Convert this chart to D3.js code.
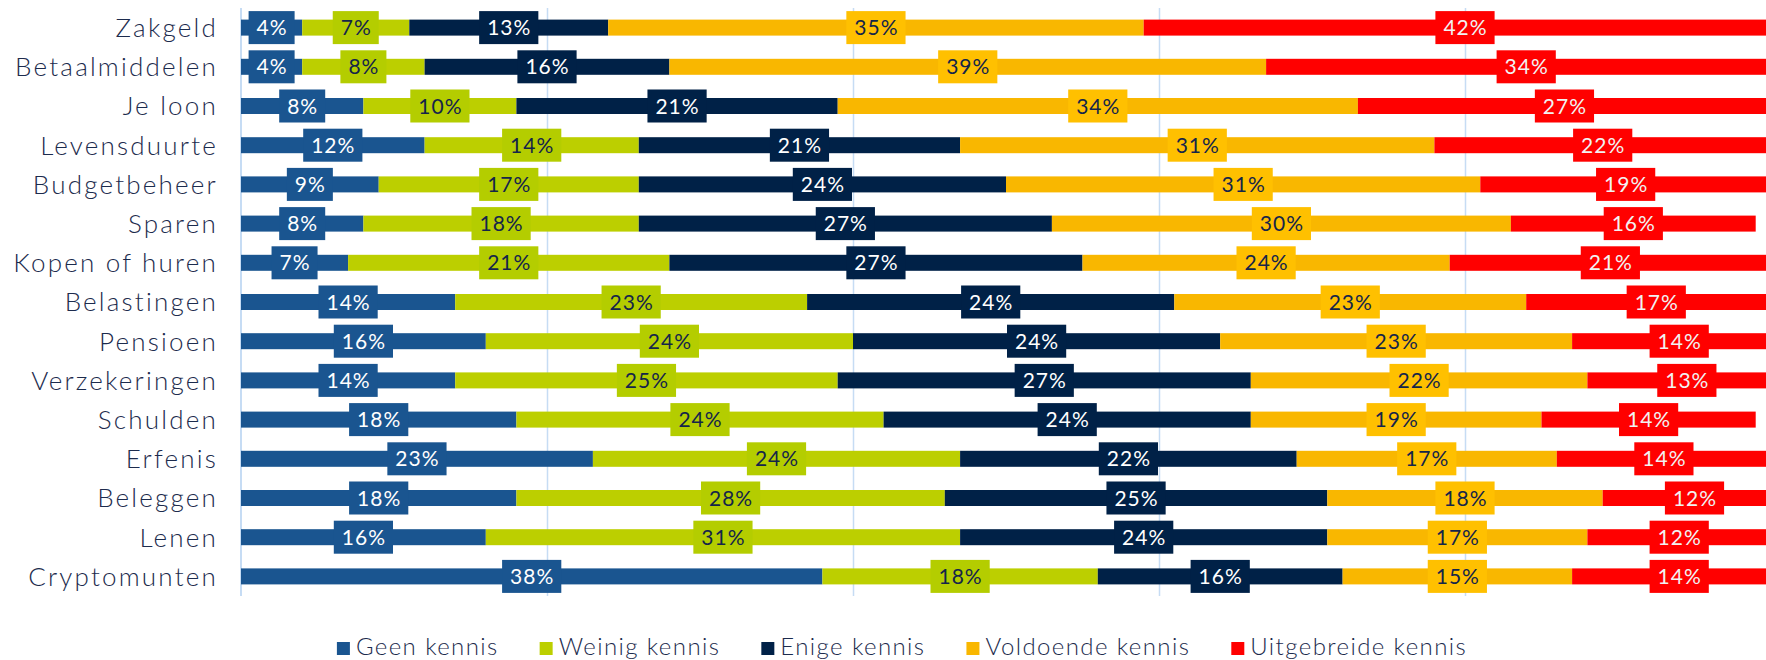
<!DOCTYPE html>
<html>
<head>
<meta charset="utf-8">
<script src="https://cdn.jsdelivr.net/npm/d3@7"></script>
<style>
  html, body { margin: 0; padding: 0; background: #fff; }
  svg { display: block; }
</style>
</head>
<body>
<div id="chart"></div>
<script>
const categories = ["Zakgeld", "Betaalmiddelen", "Je loon", "Levensduurte", "Budgetbeheer", "Sparen",
    "Kopen of huren", "Belastingen", "Pensioen", "Verzekeringen", "Schulden", "Erfenis",
    "Beleggen", "Lenen", "Cryptomunten"];

const seriesNames = ["Geen kennis", "Weinig kennis", "Enige kennis", "Voldoende kennis", "Uitgebreide kennis"];

const geenKennis        = [4, 4, 8, 12, 9, 8, 7, 14, 16, 14, 18, 23, 18, 16, 38];
const weinigKennis      = [7, 8, 10, 14, 17, 18, 21, 23, 24, 25, 24, 24, 28, 31, 18];
const enigeKennis       = [13, 16, 21, 21, 24, 27, 27, 24, 24, 27, 24, 22, 25, 24, 16];
const voldoendeKennis   = [35, 39, 34, 31, 31, 30, 24, 23, 23, 22, 19, 17, 18, 17, 15];
const uitgebreideKennis = [42, 34, 27, 22, 19, 16, 21, 17, 14, 13, 14, 14, 12, 12, 14];

const xTicks = [0, 20, 40, 60, 80];

const barColors   = ["#1a5590", "#bccf00", "#002147", "#f9b700", "#ff0000"];
const boxColors   = ["#1a5590", "#b4cd00", "#002147", "#ffc000", "#ff0000"];
const labelColors = ["#ffffff", "#14254a", "#ffffff", "#14254a", "#f2f2f2"];

const totalWidth = 1766, totalHeight = 660;
const margin = { top: 8, right: 0, bottom: 64, left: 241 };
const textColor = "#1c2b4d";
const font = "Lato, 'Open Sans', sans-serif";

// build rows for the stack
const values = [geenKennis, weinigKennis, enigeKennis, voldoendeKennis, uitgebreideKennis];
const rows = categories.map((c, i) => {
    const r = { cat: c };
    seriesNames.forEach((s, j) => r[s] = values[j][i]);
    return r;
});
const stacked = d3.stack().keys(seriesNames)(rows);

const svg = d3.select("#chart").append("svg")
    .attr("width", totalWidth)
    .attr("height", totalHeight)
    .style("font-family", font);

// --- 1. SCALES ---
// 100% sits just past the right edge, the reference is cut off there too
const xScale = d3.scaleLinear()
    .domain([0, 100])
    .range([margin.left, margin.left + 1530]);

const yScale = d3.scaleBand()
    .domain(categories)
    .range([margin.top, totalHeight - margin.bottom]);

const barH = 16, boxH = 33;
const yMid = c => yScale(c) + yScale.bandwidth() / 2;

// --- 2. GRID ---
svg.append("g").selectAll("line")
    .data(xTicks)
    .enter().append("line")
    .attr("x1", d => xScale(d) + (d === 0 ? 0 : 0.5))
    .attr("x2", d => xScale(d) + (d === 0 ? 0 : 0.5))
    .attr("y1", margin.top)
    .attr("y2", totalHeight - margin.bottom)
    .style("stroke", "#c6dcf4")
    .style("stroke-width", d => d === 0 ? 2 : 1.5);

// --- 3. BARS ---
const layers = svg.append("g").selectAll("g")
    .data(stacked)
    .enter().append("g")
    .style("fill", (d, i) => barColors[i]);

layers.selectAll("rect")
    .data(d => d)
    .enter().append("rect")
    .attr("x", d => xScale(d[0]))
    .attr("width", d => xScale(d[1]) - xScale(d[0]))
    .attr("y", d => yMid(d.data.cat) - barH / 2)
    .attr("height", barH);

// --- 4. VALUE BOXES ---
stacked.forEach((layer, i) => {
    const g = svg.append("g");
    layer.forEach(d => {
        const cx = (xScale(d[0]) + xScale(d[1])) / 2;
        const cy = yMid(d.data.cat);
        const box = g.append("rect").style("fill", boxColors[i]);
        const t = g.append("text")
            .attr("x", cx + 0.5)
            .attr("y", cy)
            .attr("dy", "0.36em")
            .attr("text-anchor", "middle")
            .style("font-size", "21px")
            .style("letter-spacing", "1px")
            .style("fill", labelColors[i])
            .text((d[1] - d[0]) + "%");
        const w = t.node().getComputedTextLength() + 15;
        box.attr("x", cx - w / 2).attr("y", cy - boxH / 2)
            .attr("width", w).attr("height", boxH);
    });
});

// --- 5. CATEGORY LABELS ---
svg.append("g").selectAll("text")
    .data(categories)
    .enter().append("text")
    .attr("x", 218)
    .attr("y", d => yMid(d))
    .attr("dy", "0.36em")
    .attr("text-anchor", "end")
    .style("font-size", "26px")
    .style("font-weight", 300)
    .style("letter-spacing", "2.2px")
    .style("fill", textColor)
    .text(d => d);

// --- 6. LEGEND ---
const legend = svg.append("g");
let lx = 0;
seriesNames.forEach((s, i) => {
    const item = legend.append("g").attr("transform", `translate(${lx},0)`);
    item.append("rect")
        .attr("x", 0).attr("y", -13)
        .attr("width", 13).attr("height", 13)
        .style("fill", barColors[i]);
    const t = item.append("text")
        .attr("x", 19).attr("y", 0)
        .style("font-size", "24px")
        .style("font-weight", 300)
        .style("letter-spacing", "1.4px")
        .style("fill", textColor)
        .text(s);
    lx += 19 + t.node().getComputedTextLength() + 41;
});
const legendW = lx - 41;
legend.attr("transform", `translate(${902 - legendW / 2},655)`);
</script>
</body>
</html>
